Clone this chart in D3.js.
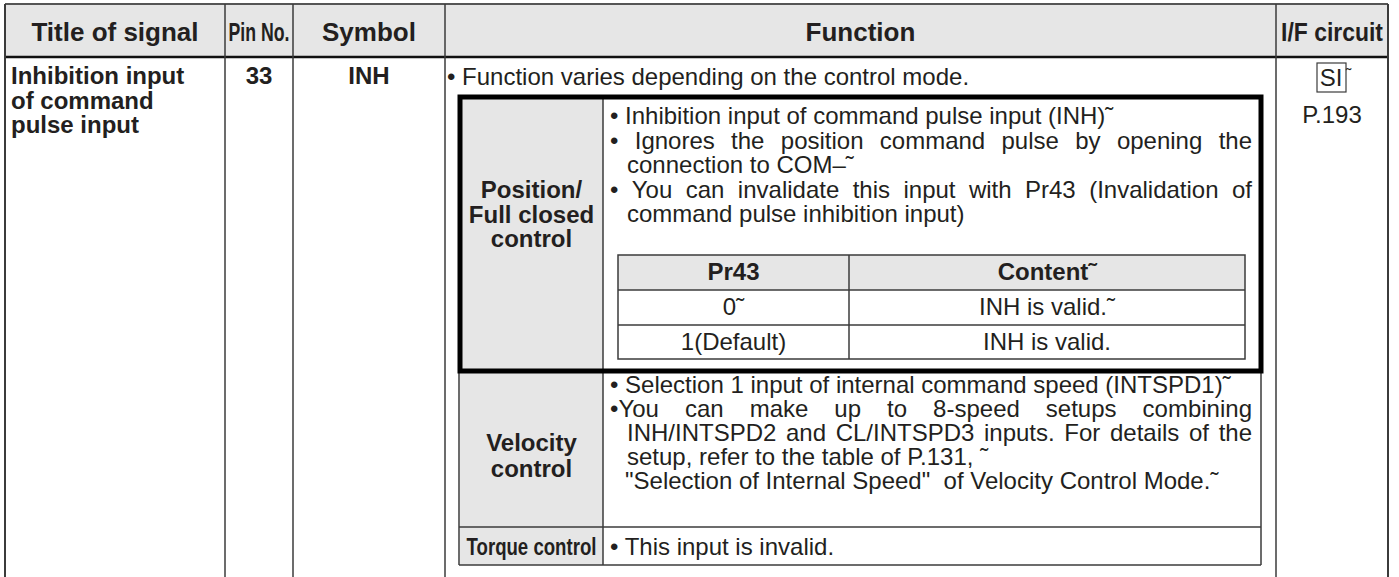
<!DOCTYPE html>
<html>
<head>
<meta charset="utf-8">
<script src="https://cdn.jsdelivr.net/npm/d3@7"></script>
<style>
  html, body { margin: 0; padding: 0; background: #ffffff; }
  svg { display: block; }
  text { font-family: "Liberation Sans", Arial, Helvetica, sans-serif; fill: #231f20; }
</style>
</head>
<body>
<svg id="chart" width="1399" height="577"></svg>
<script>
// ---------------- data ----------------
const headerLabels = ["Title of signal", "Pin No.", "Symbol", "Function", "I/F circuit"];
const signalTitle = ["Inhibition input", "of command", "pulse input"];
const pinNo = "33";
const symbol = "INH";
const functionIntro = "• Function varies depending on the control mode.";
const modeLabels = [["Position/", "Full closed", "control"], ["Velocity", "control"], ["Torque control"]];
const positionLines = [
  "• Inhibition input of command pulse input (INH)˜",
  "• Ignores the position command pulse by opening the",
  "connection to COM–˜",
  "• You can invalidate this input with Pr43 (Invalidation of",
  "command pulse inhibition input)"
];
const pr43Header = ["Pr43", "Content˜"];
const pr43Values = ["0˜", "1(Default)"];
const pr43Contents = ["INH is valid.˜", "INH is valid."];
const velocityLines = [
  "• Selection 1 input of internal command speed (INTSPD1)˜",
  "•You can make up to 8-speed setups combining",
  "INH/INTSPD2 and CL/INTSPD3 inputs.  For details of the",
  "setup, refer to the table of P.131, ˜",
  "\"Selection of Internal Speed\"  of Velocity Control Mode.˜"
];
const torqueLines = ["• This input is invalid."];
const ifCircuit = ["SI", "P.193"];

// ---------------- layout ----------------
const svg = d3.select("#chart");
const W = 1399, H = 577;
const FS = 24, FSH = 26;
const lineColor = "#3b3b3b";
const gray = "#e6e6e6";

const colX = d3.scaleOrdinal()
  .domain(["left", "pin", "symbol", "function", "if", "right"])
  .range([5, 225, 293, 445, 1276, 1388]);
const fx = d3.scaleOrdinal()
  .domain(["boxL", "labelR", "subL", "subMid", "subR", "boxR", "bullet", "indent", "textR"])
  .range([460, 603, 618, 849, 1245, 1261, 610, 627, 1252]);
const ry = d3.scaleOrdinal()
  .domain(["top", "headBot", "boxTop", "subTop", "subHead", "subRow", "subBot", "boxBot", "velBot", "torBot"])
  .range([4, 57, 97, 255, 290, 325, 359, 371, 527, 565]);
const lineY = d3.scaleLinear().domain([0, 1]).range([0, 24.6]);

// backgrounds
svg.append("rect").attr("x", colX("left")).attr("y", ry("top"))
  .attr("width", colX("right") - colX("left")).attr("height", ry("headBot") - ry("top"))
  .attr("fill", gray);
svg.append("rect").attr("x", fx("boxL")).attr("y", ry("boxTop"))
  .attr("width", fx("labelR") - fx("boxL")).attr("height", ry("torBot") - ry("boxTop"))
  .attr("fill", gray);
svg.append("rect").attr("x", fx("subL")).attr("y", ry("subTop"))
  .attr("width", fx("subR") - fx("subL")).attr("height", ry("subHead") - ry("subTop"))
  .attr("fill", gray);

function line(x1, y1, x2, y2, w, c) {
  svg.append("line").attr("x1", x1).attr("y1", y1).attr("x2", x2).attr("y2", y2)
    .attr("stroke", c || lineColor).attr("stroke-width", w || 1.5);
}

// outer table lines
line(colX("left"), ry("top"), colX("right"), ry("top"), 2, "#555");
line(colX("left"), ry("headBot"), colX("right"), ry("headBot"), 2.5, "#111");
["left", "pin", "symbol", "function", "if", "right"].forEach(k => {
  line(colX(k), ry("top"), colX(k), H, k === "left" || k === "right" ? 2 : 1.5);
});

// velocity / torque box
line(fx("boxL") - 1, ry("boxBot"), fx("boxL") - 1, ry("torBot"), 1.5);
line(fx("boxR"), ry("boxBot"), fx("boxR"), ry("torBot"), 1.5);
line(fx("boxL") - 1, ry("velBot"), fx("boxR"), ry("velBot"), 1.5);
line(fx("boxL") - 1, ry("torBot"), fx("boxR"), ry("torBot"), 1.5);
line(fx("labelR"), ry("boxTop"), fx("labelR"), ry("torBot"), 1.5);

// sub-table
svg.append("rect").attr("x", fx("subL")).attr("y", ry("subTop"))
  .attr("width", fx("subR") - fx("subL")).attr("height", ry("subBot") - ry("subTop"))
  .attr("fill", "none").attr("stroke", lineColor).attr("stroke-width", 1.5);
line(fx("subL"), ry("subHead"), fx("subR"), ry("subHead"), 1.5);
line(fx("subL"), ry("subRow"), fx("subR"), ry("subRow"), 1.5);
line(fx("subMid"), ry("subTop"), fx("subMid"), ry("subBot"), 1.5);

// thick position box
svg.append("rect").attr("x", fx("boxL")).attr("y", ry("boxTop"))
  .attr("width", fx("boxR") - fx("boxL")).attr("height", ry("boxBot") - ry("boxTop"))
  .attr("fill", "none").attr("stroke", "#000").attr("stroke-width", 5);

// ---------------- text helpers ----------------
function measure(s, size, bold) {
  const tmp = svg.append("text").attr("font-size", size)
    .attr("font-weight", bold ? "bold" : "normal").style("white-space", "pre").text(s);
  const w = tmp.node().getComputedTextLength();
  tmp.remove();
  return w;
}
function txt(s, x, y, opts) {
  opts = opts || {};
  return svg.append("text").attr("x", x).attr("y", y)
    .attr("font-size", opts.size || FS)
    .attr("font-weight", opts.bold ? "bold" : "normal")
    .attr("text-anchor", opts.anchor || "start")
    .style("white-space", "pre")
    .text(s);
}
// one multi-line text element; lines: [{s, x, y, justifyTo}]
function block(lines, opts) {
  opts = opts || {};
  const t = svg.append("text")
    .attr("font-size", opts.size || FS)
    .attr("font-weight", opts.bold ? "bold" : "normal")
    .attr("text-anchor", opts.anchor || "start")
    .style("white-space", "pre");
  lines.forEach(L => {
    if (L.justifyTo) {
      const words = L.s.trim().split(/\s+/);
      const widths = words.map(w => measure(w, opts.size || FS, opts.bold));
      const gap = (L.justifyTo - L.x - d3.sum(widths)) / (words.length - 1);
      let cx = L.x;
      words.forEach((w, i) => {
        t.append("tspan").attr("x", cx).attr("y", L.y).text(w);
        cx += widths[i] + gap;
      });
    } else {
      t.append("tspan").attr("x", L.x).attr("y", L.y).text(L.s);
    }
  });
  return t;
}
// condensed text: horizontally scaled to a target width, centred on cx
function condensed(s, cx, y, width, size) {
  const g = svg.append("g");
  const t = g.append("text").attr("x", 0).attr("y", 0)
    .attr("font-size", size).attr("font-weight", "bold")
    .attr("text-anchor", "middle").text(s);
  const natural = t.node().getComputedTextLength();
  g.attr("transform", `translate(${cx},${y}) scale(${width / natural},1)`);
}

// header labels
const headCenters = [
  (colX("left") + colX("pin")) / 2,
  (colX("pin") + colX("symbol")) / 2,
  (colX("symbol") + colX("function")) / 2,
  (colX("function") + colX("if")) / 2,
  (colX("if") + colX("right")) / 2
];
headerLabels.forEach((h, i) => {
  if (i === 1) condensed(h, headCenters[i], 41, 61, FSH);
  else if (i === 4) condensed(h, headCenters[i], 41, 102, FSH);
  else txt(h, headCenters[i], 41, { bold: true, size: FSH, anchor: "middle" });
});

// first row
block(signalTitle.map((s, i) => ({ s, x: 11, y: 84 + lineY(i) })), { bold: true });
txt(pinNo, headCenters[1], 84, { bold: true, anchor: "middle" });
txt(symbol, headCenters[2], 84, { bold: true, anchor: "middle" });
txt(functionIntro, 447, 85);

// I/F circuit
txt(ifCircuit[0], headCenters[4] - 1, 86, { anchor: "middle" });
svg.append("rect").attr("x", 1317).attr("y", 63).attr("width", 29).attr("height", 29)
  .attr("fill", "none").attr("stroke", lineColor).attr("stroke-width", 1.2);
txt("˜", 1346, 80, { size: 16 });
txt(ifCircuit[1], headCenters[4], 123, { anchor: "middle" });

// mode labels
const labelCx = (fx("boxL") + fx("labelR")) / 2;
block(modeLabels[0].map((s, i) => ({ s, x: labelCx, y: 198 + lineY(i) })), { bold: true, anchor: "middle" });
block(modeLabels[1].map((s, i) => ({ s, x: labelCx, y: 451 + lineY(i) * 1.06 })), { bold: true, anchor: "middle" });
condensed(modeLabels[2][0], labelCx, 555, 130, FS);

// position lines
const posJust = [1, 3];
block(positionLines.map((s, i) => ({
  s, y: 124 + lineY(i),
  x: s.startsWith("•") ? fx("bullet") : fx("indent"),
  justifyTo: posJust.includes(i) ? fx("textR") : null
})));

// pr43 sub-table
const subC1 = (fx("subL") + fx("subMid")) / 2, subC2 = (fx("subMid") + fx("subR")) / 2;
txt(pr43Header[0], subC1, 280, { bold: true, anchor: "middle" });
txt(pr43Header[1], subC2, 280, { bold: true, anchor: "middle" });
pr43Values.forEach((v, i) => txt(v, subC1, 315 + i * 34.5, { anchor: "middle" }));
pr43Contents.forEach((v, i) => txt(v, subC2, 315 + i * 34.5, { anchor: "middle" }));

// velocity lines
const velJust = [1, 2];
block(velocityLines.map((s, i) => ({
  s, y: 393 + lineY(i) * 0.98,
  x: s.startsWith("•") ? fx("bullet") : (s.startsWith("\"") ? fx("indent") - 2 : fx("indent")),
  justifyTo: velJust.includes(i) ? fx("textR") : null
})));

// torque line
txt(torqueLines[0], fx("bullet"), 555);
</script>
</body>
</html>
